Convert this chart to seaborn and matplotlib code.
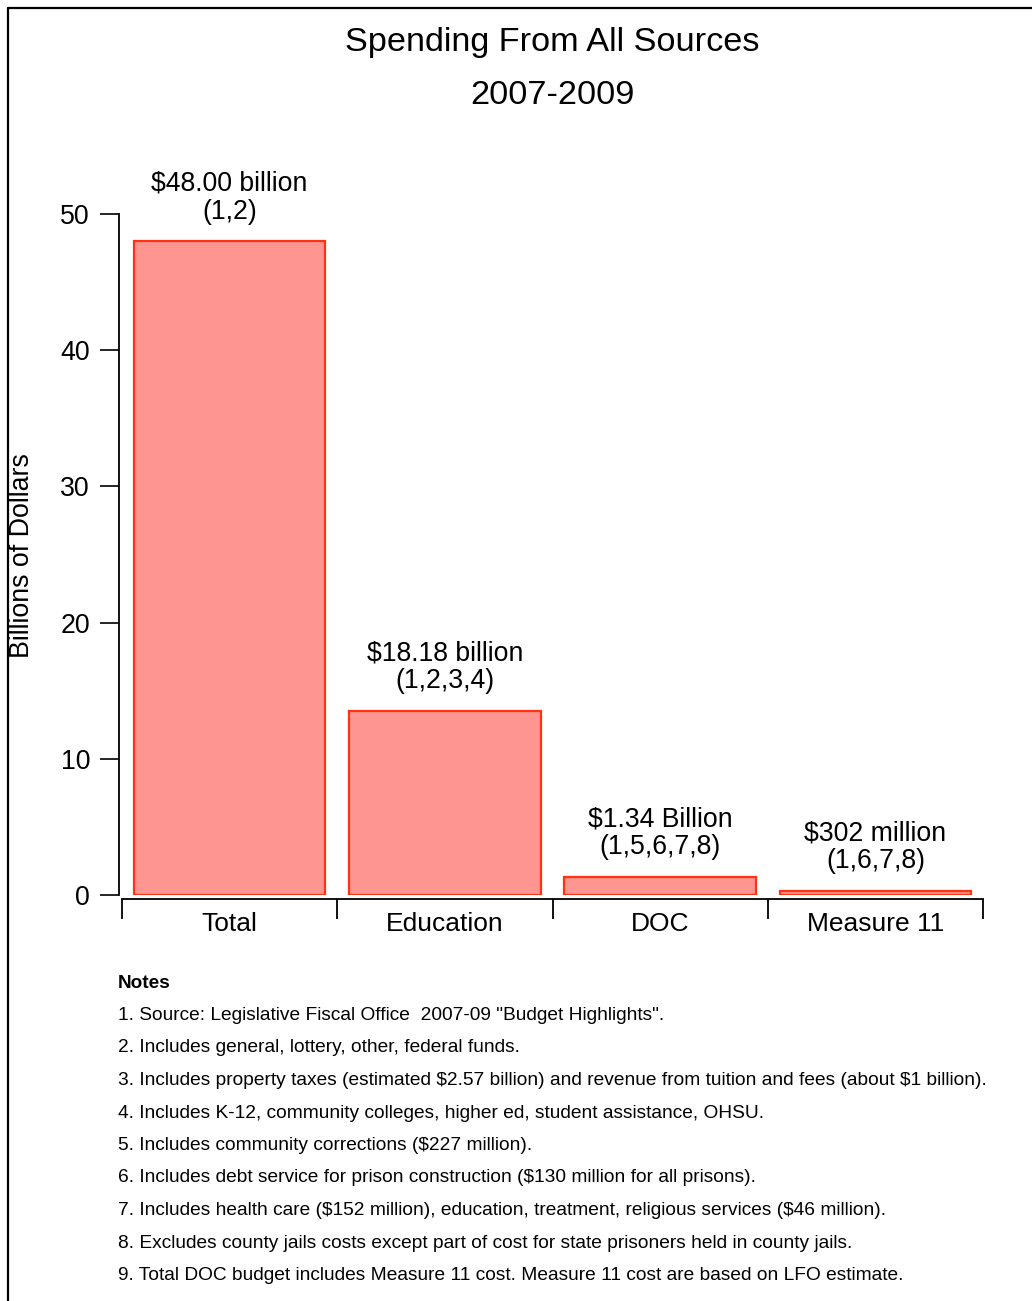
import matplotlib
matplotlib.use("Agg")
import matplotlib.pyplot as plt
from matplotlib.lines import Line2D
import seaborn as sns
import pandas as pd

categories = ["Total", "Education", "DOC", "Measure 11"]
values = [48.0, 13.5, 1.34, 0.302]
bar_labels = ["$48.00 billion\n(1,2)", "$18.18 billion\n(1,2,3,4)",
              "$1.34 Billion\n(1,5,6,7,8)", "$302 million\n(1,6,7,8)"]
yticks = [0, 10, 20, 30, 40, 50]
title_lines = ["Spending From All Sources", "2007-2009"]
ylabel = "Billions of Dollars"
notes_title = "Notes"
notes = [
    '1. Source: Legislative Fiscal Office  2007-09 "Budget Highlights".',
    "2. Includes general, lottery, other, federal funds.",
    "3. Includes property taxes (estimated $2.57 billion) and revenue from tuition and fees (about $1 billion).",
    "4. Includes K-12, community colleges, higher ed, student assistance, OHSU.",
    "5. Includes community corrections ($227 million).",
    "6. Includes debt service for prison construction ($130 million for all prisons).",
    "7. Includes health care ($152 million), education, treatment, religious services ($46 million).",
    "8. Excludes county jails costs except part of cost for state prisoners held in county jails.",
    "9. Total DOC budget includes Measure 11 cost. Measure 11 cost are based on LFO estimate.",
]

sns.set_style("white")
plt.rcParams["font.family"] = ["Liberation Sans", "DejaVu Sans"]
plt.rcParams["text.color"] = "black"
plt.rcParams["xtick.color"] = "black"
plt.rcParams["ytick.color"] = "black"
plt.rcParams["xtick.labelcolor"] = "black"
plt.rcParams["ytick.labelcolor"] = "black"

W, H = 1032, 1301
fig = plt.figure(figsize=(W / 100, H / 100), dpi=100)
ax = fig.add_axes([122 / W, 1 - 895 / H, (983 - 122) / W, (895 - 214) / H])

df = pd.DataFrame({"cat": categories, "val": values})
sns.barplot(data=df, x="cat", y="val", ax=ax, color="#FF9591",
            saturation=1, width=0.89, edgecolor="#FF3311", linewidth=1.6)

ax.set_ylim(0, 50)
ax.set_xlim(-0.5, 3.5)
ax.set_xlabel("")
ax.set_ylabel("")
ax.set_yticks(yticks)
ax.tick_params(axis="y", labelsize=19.3, length=14, width=1.2, direction="out",
               pad=7, color="black", labelcolor="black", left=True)
ax.set_xticks(range(len(categories)))
ax.set_xticklabels(categories)
ax.tick_params(axis="x", which="major", labelsize=19, length=0, pad=9,
               labelcolor="black")
ax.set_xticks([i - 0.5 for i in range(len(categories) + 1)], minor=True)
ax.tick_params(axis="x", which="minor", length=14.5, width=1.3, direction="out",
               color="black", bottom=True)

for s in ["top", "right"]:
    ax.spines[s].set_visible(False)
ax.spines["left"].set_position(("outward", 2))
ax.spines["bottom"].set_position(("outward", 3))
ax.spines["left"].set_bounds(0, 50)
ax.spines["bottom"].set_bounds(-0.5, 3.5)
for s in ["left", "bottom"]:
    ax.spines[s].set_color("black")
    ax.spines[s].set_linewidth(1.3)

for i, (v, lab) in enumerate(zip(values, bar_labels)):
    ax.annotate(lab, xy=(i, v), xytext=(0, 12), textcoords="offset points",
                ha="center", va="bottom", fontsize=19.2, linespacing=1.1,
                color="black", parse_math=False)

fig.text(552 / W, 1 - 42 / H, title_lines[0], ha="center", va="center",
         fontsize=24.7, color="black")
fig.text(552 / W, 1 - 95 / H, title_lines[1], ha="center", va="center",
         fontsize=24.7, color="black")
fig.text(22 / W, 1 - 556 / H, ylabel, ha="center", va="center", rotation=90,
         fontsize=19.3, color="black")

fig.text(118 / W, 1 - 984 / H, notes_title, ha="left", va="center",
         fontsize=13.7, fontweight="bold", color="black")
for k, line in enumerate(notes):
    fig.text(118 / W, 1 - (1015.5 + 32.5 * k) / H, line, ha="left", va="center",
             fontsize=13.75, color="black", parse_math=False)

fig.add_artist(Line2D([8 / W, 8 / W], [0, 1 - 8 / H], transform=fig.transFigure,
                      color="black", linewidth=1.6))
fig.add_artist(Line2D([8 / W, 1], [1 - 8 / H, 1 - 8 / H], transform=fig.transFigure,
                      color="black", linewidth=1.6))

fig.savefig("out.png", dpi=100)
